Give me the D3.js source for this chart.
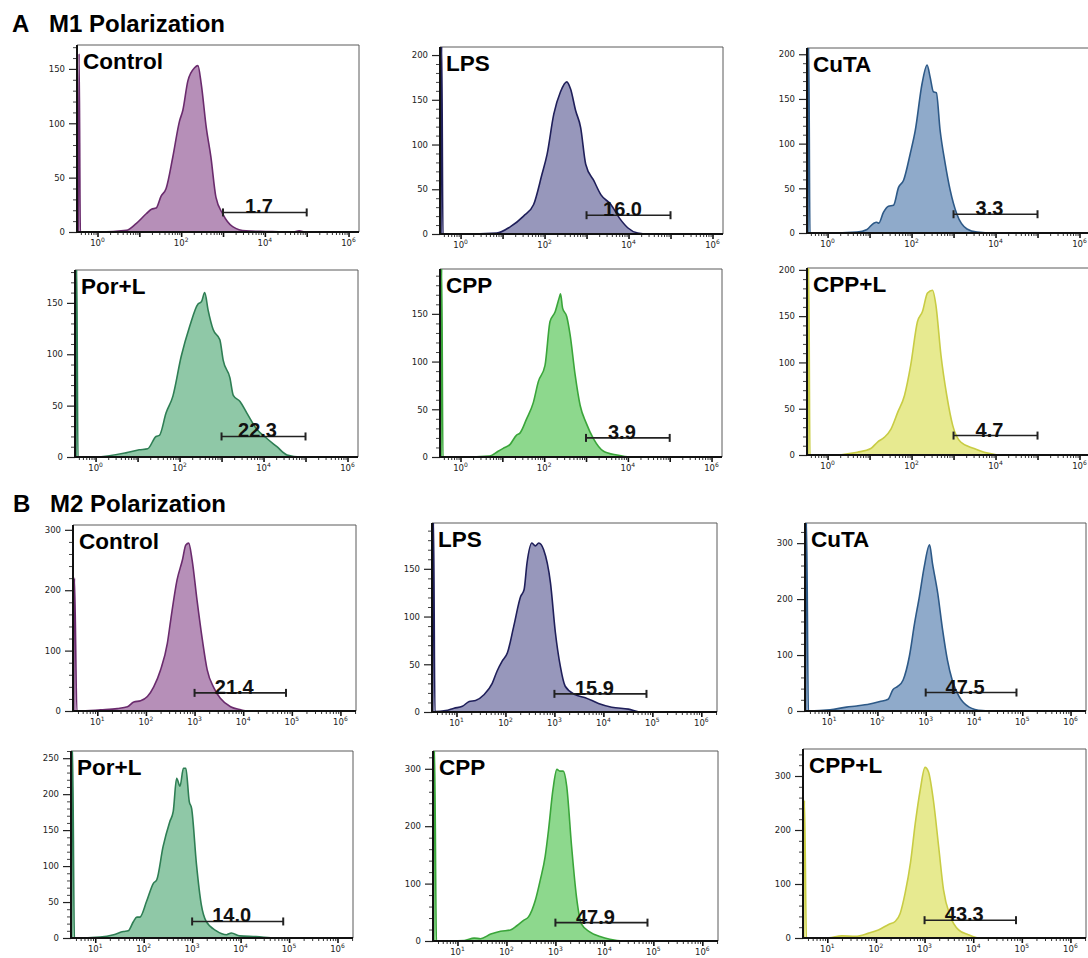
<!DOCTYPE html>
<html><head><meta charset="utf-8">
<script src="https://cdn.jsdelivr.net/npm/d3@7/dist/d3.min.js"></script>
<style>body{margin:0;background:#fff}svg{display:block}</style>
</head><body>
<svg id="chart" width="1088" height="958"></svg>
<script>
// ================= DATA =================
const sectionLetters = ["A", "B"];
const sectionTitles = ["M1 Polarization", "M2 Polarization"];
const groups = ["Control", "LPS", "CuTA", "Por+L", "CPP", "CPP+L"];

// x-axis: log10 fluorescence exponent range and labelled decades
const xDomainA = [-0.49, 6.25];
const xDomainB = [0.5, 6.32];
const xLabelDecadesA = [0, 2, 4, 6];
const xLabelDecadesB = [1, 2, 3, 4, 5, 6];

// y-axis: count maxima and tick steps per panel
const yMaxA = [172, 209, 207, 182, 197, 202];
const yMaxB = [308, 198, 336, 260, 331, 350];
const yMajorA = [50, 50, 50, 50, 50, 50];
const yMajorB = [100, 50, 100, 50, 100, 100];
const yMinorA = [10, 10, 10, 10, 10, 10];
const yMinorB = [20, 10, 20, 10, 20, 20];

// gates: range (log10) , height (count), label
const gateRangeA = [3, 5];
const gateRangeB = [3, 4.88];
const gateCountA = [18, 21, 21, 20, 20, 21];
const gateCountB = [30, 19, 33, 23, 32, 33];
const gateLabelsA = ["1.7", "16.0", "3.3", "22.3", "3.9", "4.7"];
const gateLabelsB = ["21.4", "15.9", "47.5", "14.0", "47.9", "43.3"];

// histograms: [log10 fluorescence, count]
const histA_Control = [[-0.46,0],[-0.44,164],[-0.41,0],[0.06,0],[0.69,1.5],[0.93,8],[1.17,17],[1.29,21],[1.4,22],[1.52,33],[1.64,40],[1.8,69],[1.96,102],[2.04,112],[2.16,139],[2.32,151],[2.4,153],[2.48,136],[2.6,96],[2.71,69],[2.83,32],[2.99,17],[3.23,5],[3.55,1],[4.02,0.5],[4.66,0],[4.82,1],[4.98,0],[6.2,0]];
const histA_LPS = [[-0.47,0],[-0.45,215],[-0.42,0],[0.06,0],[0.86,1],[1.18,8],[1.5,20],[1.74,33],[1.94,67],[2.06,89],[2.22,134],[2.38,159],[2.53,170],[2.62,162],[2.74,138],[2.86,119],[2.98,78],[3.18,59],[3.34,44],[3.58,33],[3.78,18],[3.98,7],[4.22,1],[4.46,0],[6.2,0]];
const histA_CuTA = [[-0.47,0],[-0.45,215],[-0.42,0],[0,0],[0.7,1],[0.94,4],[1.1,11],[1.17,12],[1.22,11],[1.33,23],[1.45,30],[1.57,31],[1.69,51],[1.81,59],[1.97,89],[2.09,115],[2.25,167],[2.37,188],[2.44,175],[2.52,158],[2.59,157],[2.68,115],[2.8,78],[2.92,48],[3.08,21],[3.32,4.5],[3.56,1],[3.95,0],[6.2,0]];
const histA_PorL = [[-0.47,0],[-0.45,190],[-0.42,0],[0,0],[0.72,4],[1.04,7],[1.24,8],[1.44,20],[1.52,21],[1.68,43],[1.84,59],[2.04,98],[2.24,127],[2.44,149],[2.52,151],[2.6,160],[2.68,143],[2.8,124],[2.96,114],[3.04,94],[3.2,77],[3.28,60],[3.44,54],[3.6,43],[3.84,27],[4.08,18],[4.32,10],[4.56,2],[4.88,0],[6.2,0]];
const histA_CPP = [[-0.47,0],[-0.45,200],[-0.42,0],[0.06,0],[0.7,1],[0.9,6],[1.02,9],[1.18,13],[1.34,23],[1.42,25],[1.58,40],[1.74,57],[1.86,79],[2.02,96],[2.14,142],[2.26,152],[2.36,167],[2.39,171],[2.44,156],[2.54,147],[2.62,128],[2.74,86],[2.86,54],[3.0,36],[3.18,19],[3.42,6],[3.74,2],[4.06,0],[6.2,0]];
const histA_CPPL = [[-0.47,0],[-0.45,205],[-0.42,0],[0.08,0],[0.71,3],[1.03,7],[1.19,14],[1.35,19],[1.51,28],[1.67,46],[1.83,64],[1.98,97],[2.14,144],[2.26,155],[2.38,175],[2.5,178],[2.58,162],[2.7,108],[2.84,64],[2.98,32],[3.17,14],[3.49,7],[3.73,3],[4.2,0],[6.2,0]];

const histB_Control = [[0.51,0],[0.53,220],[0.58,0],[0.62,0],[1.07,2],[1.41,4],[1.62,7],[1.75,15],[1.89,17],[2.03,24],[2.16,40],[2.3,68],[2.44,112],[2.51,151],[2.64,217],[2.75,250],[2.82,275],[2.88,278],[2.95,250],[3.05,184],[3.16,118],[3.26,68],[3.4,38],[3.53,21],[3.74,7],[3.95,2],[4.08,0],[6.3,0]];
const histB_LPS = [[0.51,0],[0.53,205],[0.56,0.5],[0.78,1.4],[0.95,4],[1.12,6],[1.26,11],[1.39,12],[1.56,18],[1.73,30],[1.83,43],[1.93,53],[2.04,62],[2.17,90],[2.31,121],[2.38,128],[2.44,156],[2.54,177],[2.61,174],[2.68,177],[2.78,170],[2.92,135],[3.02,83],[3.12,48],[3.22,27],[3.43,18],[3.63,15],[3.9,9],[4.17,5],[4.51,3],[4.78,0],[6.3,0]];
const histB_CuTA = [[0.51,0],[0.53,345],[0.57,0],[0.58,0],[1.02,2],[1.36,7],[1.57,9],[1.84,12.5],[2.05,17],[2.22,21],[2.32,38],[2.42,44],[2.53,55],[2.66,97],[2.77,157],[2.87,205],[2.97,258],[3.08,297],[3.14,264],[3.25,210],[3.35,145],[3.45,91],[3.55,55],[3.69,26],[3.9,7],[4.17,0.6],[4.3,0],[6.3,0]];
const histB_PorL = [[0.51,0],[0.53,270],[0.57,0],[0.59,0],[1.1,1.4],[1.38,4.6],[1.58,9],[1.68,10],[1.79,23],[1.86,29],[1.92,29],[2.06,51],[2.2,76],[2.27,81],[2.4,127],[2.54,162],[2.61,176],[2.68,222],[2.75,211],[2.82,236],[2.87,236],[2.94,190],[2.99,180],[3.09,102],[3.19,46],[3.29,23],[3.5,10],[3.71,4.6],[3.81,7],[3.98,3],[4.32,2],[4.73,0],[6.3,0]];
const histB_CPP = [[0.51,0],[0.53,340],[0.57,0],[0.6,0],[1.14,1],[1.34,5],[1.47,4],[1.68,12],[1.88,17],[2.08,19],[2.22,27],[2.35,36],[2.45,42],[2.59,71],[2.69,106],[2.79,147],[2.86,194],[2.95,264],[3.03,299],[3.09,296],[3.16,296],[3.23,270],[3.33,165],[3.43,77],[3.53,30],[3.7,16],[3.91,8],[4.11,3],[4.38,0],[6.3,0]];
const histB_CPPL = [[0.51,0],[0.53,255],[0.57,0],[0.58,0],[1.03,0.6],[1.3,4],[1.58,3],[1.85,9],[2.05,15],[2.26,25],[2.4,31],[2.5,46],[2.6,83],[2.71,139],[2.81,213],[2.91,274],[3.01,316],[3.08,308],[3.18,256],[3.29,169],[3.39,89],[3.53,40],[3.7,15],[3.9,6],[4.11,0],[6.3,0]];

// ================= STYLE / LAYOUT =================
const fillColors = ["#b68fb8", "#9797bb", "#8faaca", "#8fc8a7", "#8dd88d", "#e7ea90"];
const strokeColors = ["#6a2b6d", "#1f1f5a", "#2d5987", "#2e7e54", "#3aa53a", "#c8cc44"];
// [left, top, right, bottom] boxes in pixels
const layout = [
  [77,45,359,232],[440,47,723,234],[807,48,1090,233],
  [75,270,358,457],[440,269,722,457],[807,268,1090,455],
  [73,525,356,711],[432,523,717,712],[805,523,1086,711],
  [71,751,353,938],[433,751,718,941],[803,749,1086,938]];
const titlePos = [[12,32],[13,512]];

const histsA = [histA_Control, histA_LPS, histA_CuTA, histA_PorL, histA_CPP, histA_CPPL];
const histsB = [histB_Control, histB_LPS, histB_CuTA, histB_PorL, histB_CPP, histB_CPPL];

const svg = d3.select("#chart");
const defs = svg.append("defs");

sectionLetters.forEach((s, si) => {
  const t = svg.append("text").attr("x", titlePos[si][0]).attr("y", titlePos[si][1])
    .attr("font-family", "Liberation Sans, Arial, sans-serif").attr("font-weight", "bold")
    .attr("font-size", 24).attr("fill", "#000");
  t.append("tspan").text(s);
  t.append("tspan").attr("x", titlePos[si][0] + 37).text(sectionTitles[si]);
});

const specs = [];
sectionLetters.forEach((s, si) => groups.forEach((g, gi) => specs.push({si, gi})));

specs.forEach((p, i) => {
  const {si, gi} = p;
  const [L, T, R, B] = layout[i];
  const dom = si === 0 ? xDomainA : xDomainB;
  const ymax = (si === 0 ? yMaxA : yMaxB)[gi];
  const major = (si === 0 ? yMajorA : yMajorB)[gi];
  const minor = (si === 0 ? yMinorA : yMinorB)[gi];
  const hist = (si === 0 ? histsA : histsB)[gi];
  const gr = si === 0 ? gateRangeA : gateRangeB;
  const gc = (si === 0 ? gateCountA : gateCountB)[gi];
  const gl = (si === 0 ? gateLabelsA : gateLabelsB)[gi];
  const labDec = si === 0 ? xLabelDecadesA : xLabelDecadesB;

  const x = d3.scaleLog().domain([10 ** dom[0], 10 ** dom[1]]).range([L, R]);
  const y = d3.scaleLinear().domain([0, ymax]).range([B, T]);
  const g = svg.append("g");

  defs.append("clipPath").attr("id", "clip" + i)
    .append("rect").attr("x", L).attr("y", T).attr("width", R - L).attr("height", B - T);

  // frame (top/right)
  g.append("path").attr("d", `M${L},${T}H${R}V${B}`).attr("fill", "none")
    .attr("stroke", "#5a5a5a").attr("stroke-width", 1);

  const area = d3.area().x(d => x(10 ** d[0])).y0(y(0)).y1(d => y(Math.min(d[1], ymax * 1.05)))
    .curve(d3.curveMonotoneX);
  const line = d3.line().x(d => x(10 ** d[0])).y(d => y(Math.min(d[1], ymax * 1.05)))
    .curve(d3.curveMonotoneX);
  const cg = g.append("g").attr("clip-path", `url(#clip${i})`);
  cg.append("path").datum(hist).attr("d", area).attr("fill", fillColors[gi]);
  cg.append("path").datum(hist).attr("d", line).attr("fill", "none")
    .attr("stroke", strokeColors[gi]).attr("stroke-width", 1.6).attr("stroke-linejoin", "round");

  // y axis
  const majorTicks = d3.range(0, ymax + 0.01, major);
  const minorTicks = d3.range(0, ymax + 0.01, minor).filter(v => v % major !== 0);
  const ya = g.append("g").attr("transform", `translate(${L},0)`)
    .call(d3.axisLeft(y).tickValues(majorTicks).tickSize(8).tickPadding(4).tickFormat(d3.format("d")));
  ya.select(".domain").remove();
  ya.selectAll("text").attr("font-family", "DejaVu Sans, sans-serif").attr("font-size", 8.5).attr("fill", "#222");
  ya.selectAll("line").attr("stroke", "#222").attr("stroke-width", 1.2);
  const ym = g.append("g").attr("transform", `translate(${L},0)`)
    .call(d3.axisLeft(y).tickValues(minorTicks).tickSize(4).tickFormat(""));
  ym.select(".domain").remove();
  ym.selectAll("line").attr("stroke", "#444").attr("stroke-width", 1);
  g.append("line").attr("x1", L).attr("x2", L).attr("y1", T).attr("y2", B + 1)
    .attr("stroke", "#111").attr("stroke-width", 2);

  // x axis
  const lo = Math.floor(dom[0]), hi = Math.ceil(dom[1]);
  const decTicks = d3.range(lo, hi + 1).filter(k => k >= dom[0] && k <= dom[1]).map(k => 10 ** k);
  const minorX = [];
  d3.range(lo - 1, hi + 1).forEach(k => d3.range(2, 10).forEach(m => {
    const v = m * 10 ** k;
    if (v > 10 ** dom[0] && v < 10 ** dom[1]) minorX.push(v);
  }));
  const xa = g.append("g").attr("transform", `translate(0,${B})`)
    .call(d3.axisBottom(x).tickValues(decTicks).tickSize(5).tickFormat(""));
  xa.select(".domain").remove();
  xa.selectAll("line").attr("stroke", "#111").attr("stroke-width", 1.6);
  const xm = g.append("g").attr("transform", `translate(0,${B})`)
    .call(d3.axisBottom(x).tickValues(minorX).tickSize(3).tickFormat(""));
  xm.select(".domain").remove();
  xm.selectAll("line").attr("stroke", "#333").attr("stroke-width", 1);
  g.append("line").attr("x1", L - 1).attr("x2", R).attr("y1", B).attr("y2", B)
    .attr("stroke", "#111").attr("stroke-width", 2);
  labDec.forEach(k => {
    const t = g.append("text").attr("x", x(10 ** k)).attr("y", B + 14).attr("text-anchor", "middle")
      .attr("font-family", "DejaVu Sans, sans-serif").attr("font-size", 8.5).attr("fill", "#222");
    t.append("tspan").text("10");
    t.append("tspan").attr("dy", -4).attr("font-size", 6).text(k);
  });

  // gate
  const gx1 = x(10 ** gr[0]), gx2 = x(10 ** gr[1]), gy = y(gc);
  g.append("line").attr("x1", gx1).attr("x2", gx2).attr("y1", gy).attr("y2", gy)
    .attr("stroke", "#222").attr("stroke-width", 1.6);
  [gx1, gx2].forEach(xx => g.append("line").attr("x1", xx).attr("x2", xx)
    .attr("y1", gy - 4).attr("y2", gy + 4).attr("stroke", "#222").attr("stroke-width", 2));
  g.append("text").attr("x", (gx1 + gx2) / 2 - 6).attr("y", gy + 1).attr("text-anchor", "middle")
    .attr("font-family", "Liberation Sans, Arial, sans-serif").attr("font-weight", "bold")
    .attr("font-size", 20).attr("fill", "#111").text(gl);

  // panel name
  g.append("text").attr("x", L + 6).attr("y", T + 24)
    .attr("font-family", "Liberation Sans, Arial, sans-serif").attr("font-weight", "bold")
    .attr("font-size", 22.5).attr("fill", "#000").text(groups[gi]);
});
</script>
</body></html>
